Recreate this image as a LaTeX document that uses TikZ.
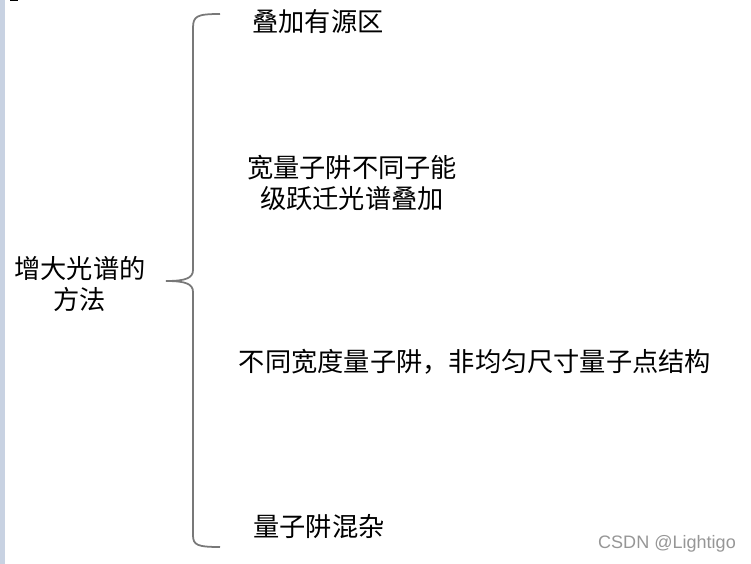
\documentclass[tikz,border=0pt]{standalone}
\usepackage{fontspec}
\setmainfont{Liberation Sans}
\newfontfamily\cjk{Noto Sans CJK SC}
\usetikzlibrary{positioning}
\definecolor{sidebar}{RGB}{200, 210, 226}
\definecolor{bracegray}{RGB}{120, 120, 120}
\definecolor{markgray}{RGB}{150, 150, 150}

\begin{document}
\begin{tikzpicture}[
    x=0.03cm, y=-0.03cm,
    label/.style={font=\cjk\fontsize{22.4}{26.5}\selectfont, align=center, inner sep=0pt, text=black},
    brace/.style={line width=1.5pt, bracegray},
    watermark/.style={font=\fontsize{15.4}{18}\selectfont, text=markgray, inner sep=0pt}
]
\useasboundingbox (0,0) rectangle (751,564);

% 左侧竖条
\fill[sidebar] (0,0) rectangle (5,564);
\fill[black] (10,0) rectangle (18,1.2);

% 左侧标题
\node[label] (method) at (80,284) {增大光谱的\\方法};

% 大括号
\coordinate (top) at (220,14);
\coordinate (tip) at (166,281);
\coordinate (bottom) at (220,547);
\draw[brace] (top) .. controls (197,14) and (193,16) .. (193,28)
    -- (193,270) .. controls (193,278) and (186,281) .. (tip)
    .. controls (186,281) and (193,284) .. (193,292)
    -- (193,535) .. controls (193,545) and (197,547) .. (bottom);

% 右侧各项
\node[label] (stack) at (318,22) {叠加有源区};
\node[label] (wide) at (352,183) {宽量子阱不同子能\\级跃迁光谱叠加};
\node[label] (width) at (475,362) {不同宽度量子阱，非均匀尺寸量子点结构};
\node[label] (mix) at (319,527) {量子阱混杂};

% 水印
\node[watermark] (csdn) at (667,544) {CSDN @Lightigo};

\end{tikzpicture}
\end{document}
